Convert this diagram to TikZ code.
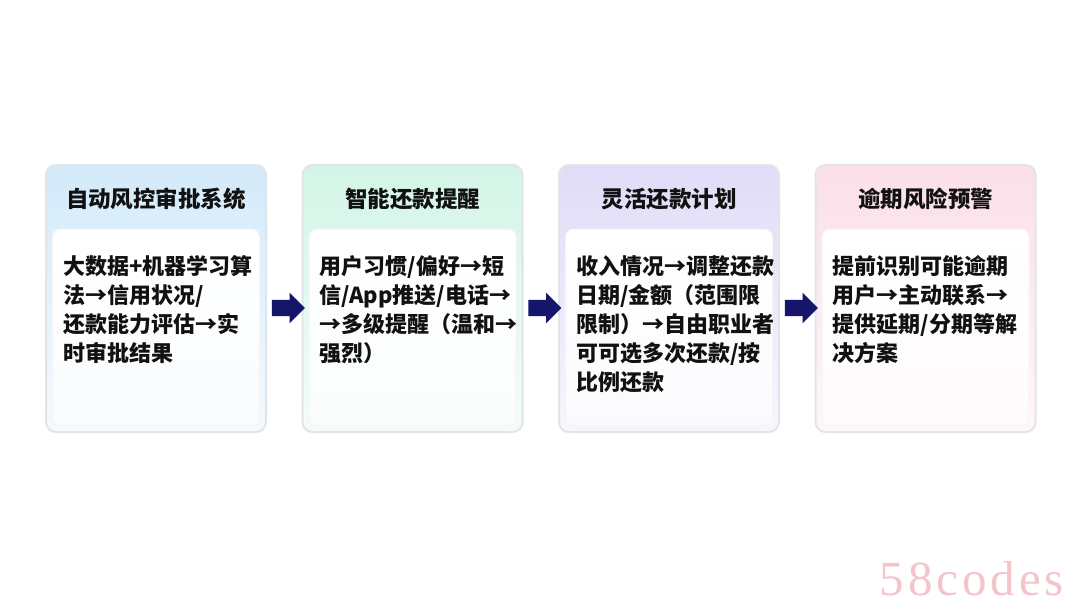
\documentclass[tikz,border=0pt]{standalone}
\usepackage{fontspec}
\setmainfont{Noto Sans CJK SC}
\newfontfamily\wmfont{Liberation Serif}[LetterSpace=8]
\usetikzlibrary{calc,shapes.arrows}
\definecolor{cblue}{HTML}{D3EAFA}
\definecolor{cgreen}{HTML}{D3F5E7}
\definecolor{cpurple}{HTML}{E0DCF8}
\definecolor{cpink}{HTML}{FBDFE8}
\definecolor{navy}{HTML}{15156B}
\definecolor{edgegray}{HTML}{E2E5E8}
\definecolor{txt}{HTML}{111111}
\definecolor{wm}{HTML}{F4C4CB}
\tikzset{
  cardbox/.style={minimum width=220pt, minimum height=267pt, rounded corners=10pt,
    draw=edgegray, line width=2pt, inner sep=0pt},
  innerbox/.style={minimum width=207pt, minimum height=197pt, rounded corners=8pt,
    draw=white!92!gray, line width=1pt, inner sep=0pt, top color=white},
  headtext/.style={font=\bfseries\fontsize{22.5}{26}\selectfont, text=txt, inner sep=0pt},
  bodytext/.style={font=\bfseries\fontsize{22}{29}\selectfont, text=txt, align=left,
    anchor=north west, inner sep=0pt},
  flowarrow/.style={single arrow, fill=navy, draw=none, minimum height=33pt,
    minimum width=30pt, single arrow head extend=7pt, inner sep=0pt},
}
\newcommand\mkcard[5]{%
  \node[cardbox, top color=#3, bottom color=#3!25!white] (#1) at (#2,298.5) {};
  \node[innerbox, bottom color=#3!15!white] (#1i) at (#2,327.5) {};
  \node[headtext] (#1h) at (#2,199) {#4};
  \node[bodytext] (#1b) at (#2-93,255.5) {#5};
}
\begin{document}
\begin{tikzpicture}[x=1pt,y=-1pt]
\useasboundingbox (0,0) rectangle (1080,608);
\fill[white] (0,0) rectangle (1080,608);
\mkcard{c1}{156}{cblue}{自动风控审批系统}{大数据+机器学习算\\法→信用状况/\\还款能力评估→实\\时审批结果}
\mkcard{c2}{412.5}{cgreen}{智能还款提醒}{用户习惯/偏好→短\\信/App推送/电话→\\→多级提醒（温和→\\强烈）}
\mkcard{c3}{669}{cpurple}{灵活还款计划}{收入情况→调整还款\\日期/金额（范围限\\限制）→自由职业者\\可可选多次还款/按\\比例还款}
\mkcard{c4}{925.5}{cpink}{逾期风险预警}{提前识别可能逾期\\用户→主动联系→\\提供延期/分期等解\\决方案}
\node[flowarrow] (a1) at ($(c1.east)!0.5!(c2.west)+(0,9.5)$) {\rule{0pt}{16pt}};
\node[flowarrow] (a2) at ($(c2.east)!0.5!(c3.west)+(0,9.5)$) {\rule{0pt}{16pt}};
\node[flowarrow] (a3) at ($(c3.east)!0.5!(c4.west)+(0,9.5)$) {\rule{0pt}{16pt}};
\node[text=wm, font=\wmfont\fontsize{49}{52}\selectfont, inner sep=0pt] (wm) at (972,579) {58codes};
\end{tikzpicture}
\end{document}
